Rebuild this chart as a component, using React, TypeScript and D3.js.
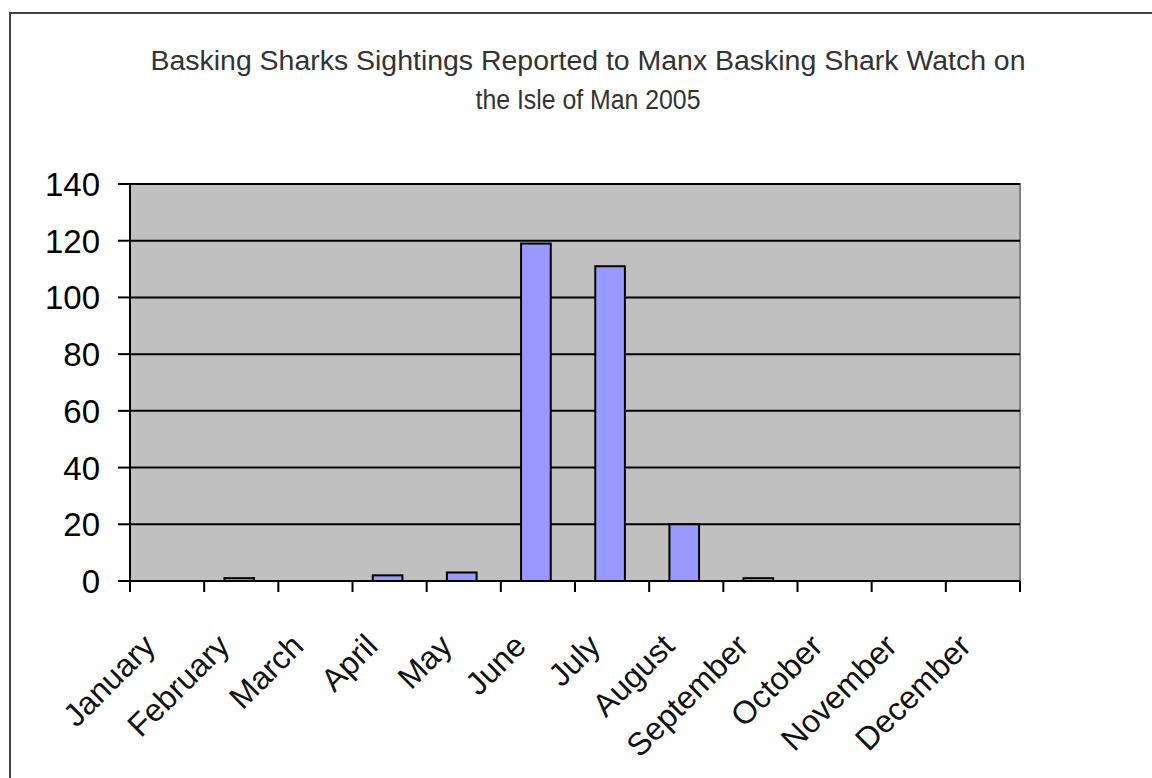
import React from "react";
import * as d3 from "d3";

const months = ["January","February","March","April","May","June","July","August","September","October","November","December"];
const sightings = [0, 1, 0, 2, 3, 119, 111, 20, 1, 0, 0, 0];
const yTicks = [0, 20, 40, 60, 80, 100, 120, 140];
const titleLines = ["Basking Sharks Sightings Reported to Manx Basking Shark Watch on", "the Isle of Man 2005"];

const W = 1152, H = 778;
const plot = { left: 130, right: 1020, top: 184, bottom: 581 };

export default function App() {
  const x = d3.scaleBand<string>().domain(months).range([plot.left, plot.right]).paddingInner(0.6).paddingOuter(0.3);
  const xb = d3.scaleBand<string>().domain(months).range([plot.left, plot.right]);
  const y = d3.scaleLinear().domain([0, 140]).range([plot.bottom, plot.top]);
  const font = "'Liberation Sans', Arial, sans-serif";
  const bounds = months.map((_, i) => plot.left + i * xb.step()).concat([plot.right]);
  return (
    <svg width={W} height={H} style={{ position: "absolute", left: 0, top: 0, background: "#fff" }}>
      <rect x={0} y={0} width={W} height={H} fill="#fff" />
      <rect x={10} y={13} width={W + 20} height={H + 20} fill="none" stroke="#444" strokeWidth={2} />
      {titleLines.map((t, i) => (
        <text key={i} x={588} y={70 + i * 39} textAnchor="middle" fontFamily={font} fontSize={27} fill="#333"
          textLength={i === 0 ? 875 : 225} lengthAdjust="spacingAndGlyphs">{t}</text>
      ))}
      <rect x={plot.left} y={plot.top} width={plot.right - plot.left} height={plot.bottom - plot.top} fill="#c0c0c0" stroke="#808080" strokeWidth={2} />
      {yTicks.filter(v => v > 0).map(v => (
        <line key={v} x1={plot.left} x2={plot.right} y1={y(v)} y2={y(v)} stroke="#000" strokeWidth={2} />
      ))}
      {months.map((m, i) => sightings[i] > 0 && (
        <rect key={m} x={(x(m) as number) - 2} y={y(sightings[i])} width={x.bandwidth()} height={y(0) - y(sightings[i])}
          fill="#9999ff" stroke="#000" strokeWidth={2} />
      ))}
      <line x1={plot.left} x2={plot.left} y1={plot.top} y2={plot.bottom} stroke="#000" strokeWidth={2} />
      <line x1={118} x2={plot.right} y1={plot.bottom} y2={plot.bottom} stroke="#000" strokeWidth={2} />
      {yTicks.map(v => (
        <g key={v}>
          <line x1={118} x2={plot.left} y1={y(v)} y2={y(v)} stroke="#000" strokeWidth={2} />
          <text x={100} y={y(v) + 12} textAnchor="end" fontFamily={font} fontSize={33} fill="#000">{v}</text>
        </g>
      ))}
      {bounds.map((bx, i) => (
        <line key={i} x1={bx} x2={bx} y1={plot.bottom} y2={plot.bottom + 11} stroke="#000" strokeWidth={2} />
      ))}
      {months.map(m => {
        const cx = (xb(m) as number) + xb.bandwidth() / 2 - 10;
        const cy = 648;
        return (
          <text key={m} x={cx} y={cy} textAnchor="end" fontFamily={font} fontSize={32} fill="#111"
            transform={`rotate(-45 ${cx} ${cy})`}>{m}</text>
        );
      })}
    </svg>
  );
}
